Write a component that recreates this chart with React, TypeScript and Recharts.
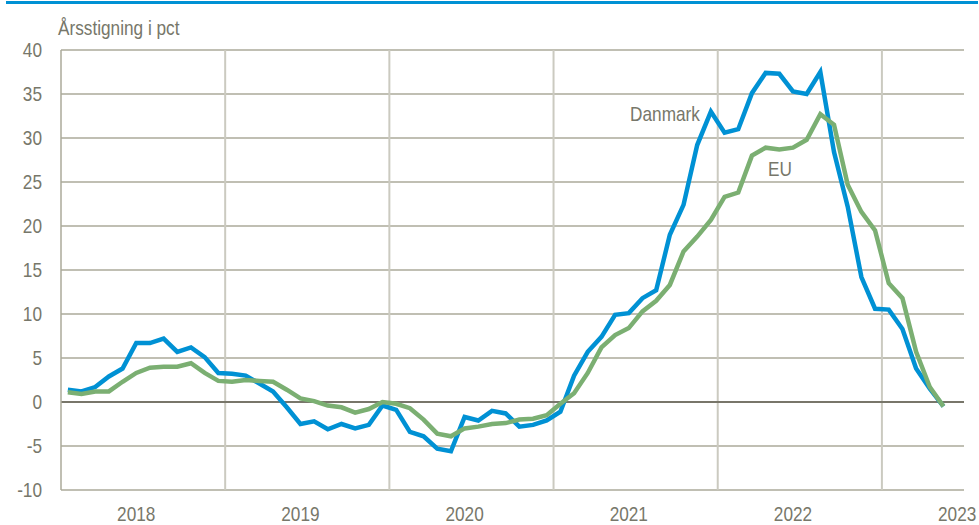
import {
  LineChart,
  Line,
  XAxis,
  YAxis,
  CartesianGrid,
  ReferenceLine,
} from "recharts";

const years = [2018, 2019, 2020, 2021, 2022, 2023];

// Årsstigning, månedlig jan 2018 - maj 2023
const danmark = [
  1.4, 1.2, 1.7, 2.9, 3.8, 6.7, 6.7, 7.2, 5.7, 6.2, 5.1, 3.3,
  3.2, 3.0, 2.1, 1.2, -0.6, -2.5, -2.2, -3.1, -2.5, -3.0, -2.6, -0.4,
  -0.9, -3.4, -3.9, -5.3, -5.6, -1.7, -2.1, -1.0, -1.3, -2.8, -2.6, -2.1,
  -1.1, 3.0, 5.7, 7.4, 9.9, 10.1, 11.8, 12.7, 19.0, 22.4, 29.2, 33.0,
  30.6, 31.0, 35.1, 37.4, 37.3, 35.3, 35.0, 37.5, 28.4, 22.2, 14.2, 10.6,
  10.5, 8.3, 3.8, 1.5, -0.5,
];

const eu = [
  1.1, 0.9, 1.2, 1.2, 2.3, 3.3, 3.9, 4.0, 4.0, 4.4, 3.3, 2.4,
  2.3, 2.5, 2.4, 2.3, 1.4, 0.4, 0.1, -0.4, -0.6, -1.2, -0.8, 0.0,
  -0.2, -0.7, -2.0, -3.6, -3.9, -3.0, -2.8, -2.5, -2.4, -2.0, -1.9, -1.5,
  -0.2, 1.0, 3.3, 6.2, 7.6, 8.4, 10.3, 11.5, 13.3, 17.1, 18.8, 20.7,
  23.3, 23.8, 28.0, 28.9, 28.7, 28.9, 29.8, 32.7, 31.5, 24.7, 21.6, 19.5,
  13.5, 11.8, 5.7, 1.7, -0.5,
];

const yTicks = [-10, -5, 0, 5, 10, 15, 20, 25, 30, 35, 40];

// month centres: month i sits at i + 0.5 on the time axis
const chartData = danmark.map((v, i) => ({ t: i + 0.5, dk: v, eu: eu[i] }));
const yearTicks = years.map((_, k) => k * 12 + 5.5);
const yearBreaks = years.slice(1).map((_, k) => (k + 1) * 12);

const FONT = '"Liberation Sans", Arial, sans-serif';
const TEXT = "#77776A";
const BLUE = "#0091D4";
const GREEN = "#7BAF72";

// no narrow font installed, so squeeze Liberation Sans sideways
function NText({
  x,
  y,
  anchor = "start",
  dy,
  children,
}: {
  x: number;
  y: number;
  anchor?: "start" | "middle" | "end";
  dy?: string;
  children: React.ReactNode;
}) {
  return (
    <text
      transform={`translate(${x} ${y}) scale(0.82 1)`}
      x={0}
      y={0}
      dy={dy}
      textAnchor={anchor}
      fill={TEXT}
      fontSize={21}
      fontFamily={FONT}
    >
      {children}
    </text>
  );
}

const YearTick = (props: any) => (
  <NText x={props.x} y={props.y} anchor="middle" dy="0.71em">
    {years[Math.floor(props.payload.value / 12)]}
  </NText>
);

const ValueTick = (props: any) => (
  <NText x={props.x} y={props.y} anchor="end" dy="0.355em">
    {props.payload.value}
  </NText>
);

export default function App() {
  return (
    <div
      style={{
        position: "absolute",
        left: 0,
        top: 0,
        width: 979,
        height: 525,
        background: "#fff",
        fontFamily: FONT,
      }}
    >
      <div
        style={{ position: "absolute", left: 6, top: 1, width: 972, height: 3, background: BLUE }}
      />
      <LineChart
        width={979}
        height={525}
        data={chartData}
        margin={{ top: 50, right: 15, left: 0, bottom: 5 }}
      >
        <CartesianGrid vertical={false} stroke="#ABAA9A" strokeWidth={1.5} />
        {yearBreaks.map((x) => (
          <ReferenceLine key={x} x={x} stroke="#CBCAC0" strokeWidth={2} />
        ))}
        <ReferenceLine y={0} stroke="#78766A" strokeWidth={2} />
        <XAxis
          dataKey="t"
          type="number"
          domain={[0, 66]}
          ticks={yearTicks}
          height={30}
          axisLine={false}
          tickLine={false}
          tickMargin={10}
          tick={<YearTick />}
        />
        <YAxis
          domain={[-10, 40]}
          ticks={yTicks}
          width={61}
          axisLine={{ stroke: "#ABAA9A", strokeWidth: 1.5 }}
          tickLine={false}
          tickMargin={13}
          tick={<ValueTick />}
        />
        <Line
          type="linear"
          dataKey="dk"
          stroke={BLUE}
          strokeWidth={4.5}
          dot={false}
          isAnimationActive={false}
        />
        <Line
          type="linear"
          dataKey="eu"
          stroke={GREEN}
          strokeWidth={4.5}
          dot={false}
          isAnimationActive={false}
        />
      </LineChart>
      <svg
        width={979}
        height={525}
        style={{ position: "absolute", left: 0, top: 0, pointerEvents: "none" }}
      >
        <NText x={58} y={35}>Årsstigning i pct</NText>
        <NText x={665} y={121} anchor="middle">Danmark</NText>
        <NText x={768} y={176}>EU</NText>
      </svg>
    </div>
  );
}
